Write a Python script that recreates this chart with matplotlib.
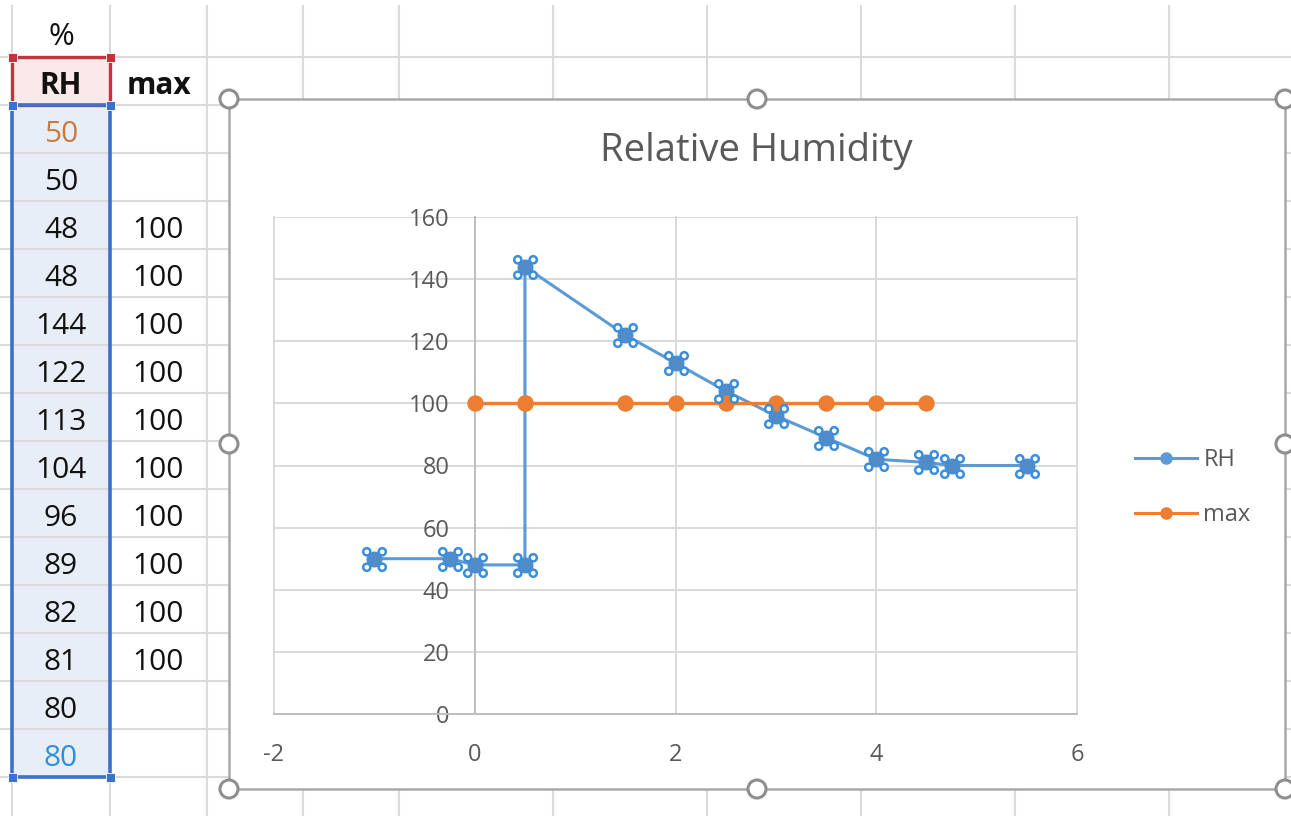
import numpy as np
import matplotlib
matplotlib.use("Agg")
import matplotlib.pyplot as plt
from matplotlib.path import Path
from matplotlib.patches import Rectangle, Circle
from matplotlib.lines import Line2D

# ---------------- data ----------------
pct_label = "%"
col_headers = ["RH", "max"]
rh_values = [50, 50, 48, 48, 144, 122, 113, 104, 96, 89, 82, 81, 80, 80]
max_values = [np.nan, np.nan, 100, 100, 100, 100, 100, 100, 100, 100, 100, 100, np.nan, np.nan]
x_values = [-1, -0.25, 0, 0.5, 0.5, 1.5, 2, 2.5, 3, 3.5, 4, 4.5, 4.75, 5.5]
chart_title = "Relative Humidity"
series_names = ["RH", "max"]
x_ticks = [-2, 0, 2, 4, 6]
y_ticks = [0, 20, 40, 60, 80, 100, 120, 140, 160]

W, H = 1291, 816
plt.rcParams['font.family'] = ['Open Sans', 'DejaVu Sans']
plt.rcParams['axes.unicode_minus'] = False

fig = plt.figure(figsize=(W / 100, H / 100), dpi=100)
fig.patch.set_facecolor('white')

# ---------------- spreadsheet background (pixel coordinates) ----------------
bg = fig.add_axes([0, 0, 1, 1])
bg.set_xlim(0, W)
bg.set_ylim(H, 0)
bg.axis('off')

grid_c = '#DADADA'
col_edges = [12, 110, 207, 303, 399, 553, 707, 861, 1015, 1169]
row_edges = [57 + 48 * k for k in range(16)]

# selection fills
bg.add_patch(Rectangle((12, 105), 98, 672, facecolor='#E8EEF8', edgecolor='none', zorder=1))
bg.add_patch(Rectangle((12, 57), 98, 48, facecolor='#FBE8E8', edgecolor='none', zorder=1))

for xe in col_edges:
    bg.plot([xe, xe], [6, H], color=grid_c, lw=1.5, zorder=2)
for ye in row_edges:
    bg.plot([0, W], [ye, ye], color=grid_c, lw=1.5, zorder=2)

# selection borders
bg.add_patch(Rectangle((12, 57), 98, 48, facecolor='none', edgecolor='#C5323C', lw=2.4, zorder=3))
bg.add_patch(Rectangle((12, 105), 98, 672, facecolor='none', edgecolor='#3C6FCF', lw=2.6, zorder=4))
sq = 9
for (cx, cy, c) in [(12, 57, '#C5323C'), (110, 57, '#C5323C'),
                    (12, 105, '#3C6FCF'), (110, 105, '#3C6FCF'),
                    (12, 777, '#3C6FCF'), (110, 777, '#3C6FCF')]:
    bg.add_patch(Rectangle((cx - sq / 2, cy - sq / 2), sq, sq, facecolor=c, edgecolor='white', lw=0.6, zorder=5))

cell_fs = 21.5
colA, colB = 61, 158.5
bg.text(colA, 45, pct_label, ha='center', va='baseline', fontsize=cell_fs + 1, color='#111111', zorder=6)
bg.text(colA, 94, col_headers[0], ha='center', va='baseline', fontsize=cell_fs, fontweight='bold', color='#111111', zorder=6)
bg.text(colB, 94, col_headers[1], ha='center', va='baseline', fontsize=cell_fs, fontweight='bold', color='#111111', zorder=6)
for i, v in enumerate(rh_values):
    yb = 142 + 48 * i
    c = '#111111'
    if i == 0:
        c = '#C97A3E'
    elif i == len(rh_values) - 1:
        c = '#2F8FD8'
    bg.text(colA, yb, f"{v}", ha='center', va='baseline', fontsize=cell_fs, color=c, zorder=6)
for i, v in enumerate(max_values):
    if not np.isnan(v):
        bg.text(colB, 142 + 48 * i, f"{int(v)}", ha='center', va='baseline', fontsize=cell_fs, color='#111111', zorder=6)

# chart frame
cl, cr, ct, cb = 229, 1285, 99, 789
bg.add_patch(Rectangle((cl, ct), cr - cl, cb - ct, facecolor='white', edgecolor='#A8A8A8', lw=1.8, zorder=7))
mx_, my_ = (cl + cr) / 2, (ct + cb) / 2
for (hx, hy) in [(cl, ct), (mx_, ct), (cr, ct), (cl, my_), (cr, my_), (cl, cb), (mx_, cb), (cr, cb)]:
    bg.add_patch(Circle((hx, hy), 9, facecolor='white', edgecolor='#8E8E8E', lw=2.2, zorder=8))

fig.text(756 / W, 1 - 151 / H, chart_title, ha='center', va='center', fontsize=27.5, color='#595959')

# ---------------- chart ----------------
pl, pr, pt_, pb = 274, 1077, 217, 714
ax = fig.add_axes([pl / W, 1 - pb / H, (pr - pl) / W, (pb - pt_) / H])
ax.set_facecolor('none')
ax.set_xlim(-2, 6)
ax.set_ylim(0, 160)
ax.set_xticks(x_ticks)
ax.set_yticks(y_ticks)
ax.grid(True, color='#D9D9D9', lw=1.4, zorder=0)
ax.set_axisbelow(True)
for gl in ax.get_xgridlines() + ax.get_ygridlines():
    gl.set_clip_on(False)
for s in ['top', 'right']:
    ax.spines[s].set_visible(False)
ax.spines['left'].set_position(('data', 0))
ax.spines['left'].set_color('#BFBFBF')
ax.spines['left'].set_linewidth(1.4)
ax.spines['bottom'].set_color('#BFBFBF')
ax.spines['bottom'].set_linewidth(1.4)
ax.tick_params(axis='x', length=0, pad=21, labelsize=17, labelcolor='#595959')
ax.tick_params(axis='y', length=0, pad=18, labelsize=17, labelcolor='#595959')

blue = '#5B9BD5'
orange = '#ED7D31'
ax.plot(x_values, rh_values, color=blue, lw=2.2, zorder=3)
ax.plot(x_values, rh_values, ls='none', marker='o', ms=10.5, mfc='#4F8CC9', mec='#4F8CC9', zorder=4)
ax.plot(x_values, max_values, color=orange, lw=2.4, marker='o', ms=10.8, mfc=orange, mec=orange, zorder=5)

# selection handles around RH markers
off, r = 7.7, 3.6
handle_path = Path.make_compound_path(*[
    Path.circle((sx * off, sy * off), r) for sx, sy in [(-1, -1), (1, -1), (-1, 1), (1, 1)]])
ax.plot(x_values, rh_values, ls='none', marker=handle_path, ms=16.3, mfc='white', mec='#3A8EDB', mew=1.8, zorder=6)

# legend
handles = [Line2D([], [], color=blue, lw=2.2, marker='o', ms=8, mfc=blue, mec=blue),
           Line2D([], [], color=orange, lw=2.2, marker='o', ms=8, mfc=orange, mec=orange)]
leg = ax.legend(handles, series_names, loc='upper left', bbox_to_anchor=(1135 / W, 1 - 448 / H),
                bbox_transform=fig.transFigure, frameon=False, borderpad=0, borderaxespad=0,
                handlelength=2.62, handletextpad=0.28, labelspacing=1.33, fontsize=17)
for t in leg.get_texts():
    t.set_color('#595959')

fig.savefig('out.png', dpi=100, facecolor='white')
